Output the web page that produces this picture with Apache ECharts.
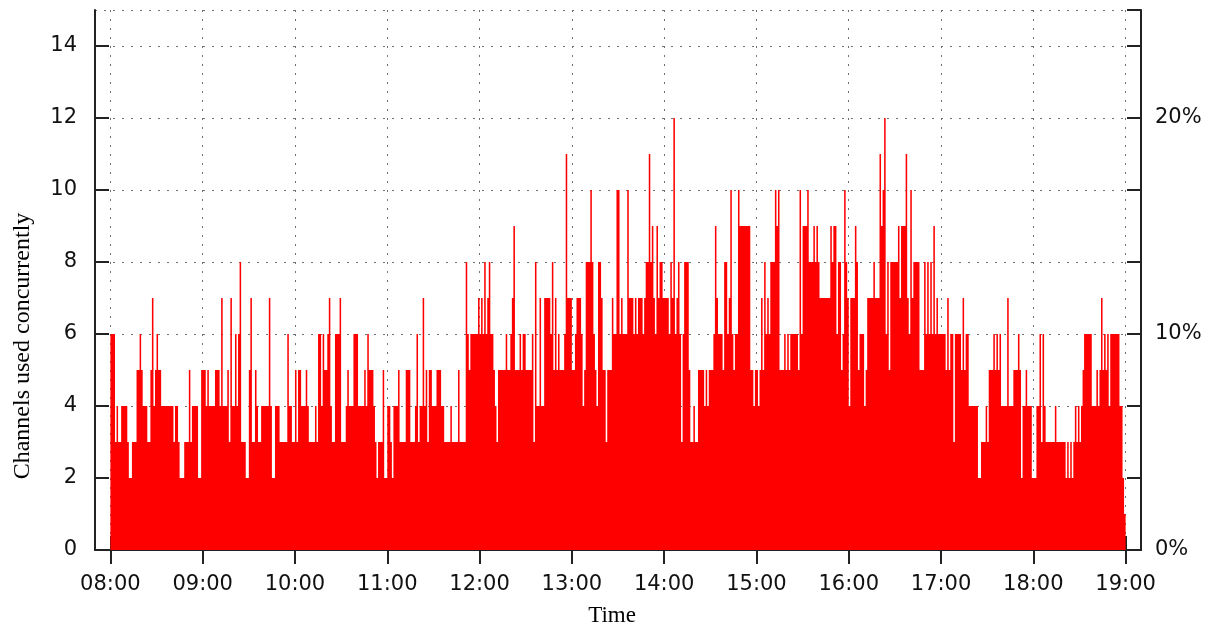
<!DOCTYPE html>
<html>
<head>
<meta charset="utf-8">
<script src="https://cdn.jsdelivr.net/npm/echarts@6/dist/echarts.min.js"></script>
<style>
html,body{margin:0;padding:0;background:#fff;}
#chart{width:1213px;height:627px;}
</style>
</head>
<body>
<div id="chart"></div>
<script>
// Channels used concurrently, one value per minute starting at 08:00
const h08 = [6,6,6,3,4,3,3,4,4,4, 4,3,2,2,3,3,3,5,5,6, 5,4,4,4,3,3,5,7,4,5, 6,5,5,4,4,4,4,4,4,4, 4,3,4,4,3,2,2,2,3,3, 3,5,3,4,4,4,4,2,2,5];
const h09 = [5,5,4,5,4,4,4,4,5,5, 5,4,7,4,4,4,5,3,7,4, 4,6,4,6,8,3,3,3,2,2, 5,7,3,3,5,4,3,3,4,4, 4,4,4,7,4,2,2,4,4,4, 3,3,3,3,3,6,4,4,3,3];
const h10 = [5,3,5,5,4,4,4,5,4,3, 3,3,3,4,3,6,6,4,6,5, 5,6,7,4,3,3,6,6,6,7, 3,3,3,4,5,4,4,4,6,6, 6,4,4,4,4,5,4,6,5,5, 5,4,3,2,3,3,3,5,2,2];
const h11 = [4,4,3,2,4,4,4,5,3,3, 3,3,5,5,5,3,3,3,4,6, 3,4,4,7,4,5,3,5,5,4, 4,4,5,5,5,4,4,3,3,3, 3,4,3,3,3,3,5,3,3,3, 3,8,6,5,6,6,6,6,6,7];
const h12 = [6,7,6,8,6,7,8,6,6,5, 4,3,5,5,5,5,5,6,5,5, 6,7,9,5,5,5,6,5,6,6, 5,5,5,5,6,3,8,4,4,7, 4,4,7,7,7,7,6,8,5,7, 5,6,5,5,5,6,11,7,7,7];
const h13 = [5,5,6,7,7,7,6,4,5,8, 8,8,10,8,6,5,4,8,8,7, 5,5,3,5,5,5,7,6,6,10, 10,6,7,6,6,6,10,7,7,7, 6,7,6,7,7,7,6,7,8,8, 11,8,9,7,6,9,7,8,8,7];
const h14 = [7,7,7,6,8,7,12,6,7,8, 6,3,6,8,8,8,5,3,3,4, 3,3,5,5,5,5,4,5,4,5, 5,5,6,9,7,6,6,6,5,8, 8,6,7,10,6,5,6,6,10,9, 9,9,9,9,9,9,5,5,4,5];
const h15 = [5,4,5,7,5,8,6,7,6,8, 8,8,10,9,10,5,5,5,6,5, 6,5,6,6,6,6,6,5,10,6, 9,9,9,10,8,8,8,9,8,9, 8,7,7,7,7,7,7,7,9,8, 9,9,6,8,8,5,6,10,8,7];
const h16 = [4,7,7,7,9,8,5,6,6,6, 4,5,7,7,7,7,8,7,7,7, 11,9,10,12,6,8,5,8,8,8, 8,8,9,7,9,9,9,11,7,6, 10,7,8,8,8,8,5,5,5,8, 6,8,6,8,6,9,6,7,6,6];
const h17 = [6,6,6,5,7,5,6,6,3,6, 6,6,6,5,7,5,6,6,4,4, 4,4,4,4,2,2,3,3,3,4, 3,5,5,5,6,5,6,5,6,4, 4,4,4,7,4,4,4,5,5,5, 6,5,2,4,4,5,4,4,4,2];
const h18 = [2,2,4,4,6,3,6,4,3,3, 3,3,3,3,4,3,3,3,3,3, 3,2,3,2,3,2,3,4,3,4, 3,4,5,6,6,6,6,6,4,4, 4,5,4,5,7,5,6,5,6,4, 6,6,6,6,6,6,4,4,2,1];

const leftTicks = [0,2,4,6,8,10,12,14];
const rightPct = [0,10,20];
const yTitle = 'Channels used concurrently';
const xTitle = 'Time';

const startMin = -10, endMin = 670;   // axis range in minutes from 08:00
const values = [].concat(h08,h09,h10,h11,h12,h13,h14,h15,h16,h17,h18);

const cats = [];
for (let m = startMin; m <= endMin; m++) {
  const t = 480 + m;
  const hh = Math.floor(t / 60), mm = t % 60;
  cats.push(String(hh).padStart(2,'0') + ':' + String(mm).padStart(2,'0'));
}
// each minute's value, placed on its category (the step spans that minute)
const data = values.map((v, m) => [m - startMin, v]);
const isHour = (i, v) => typeof v === 'string' && v.endsWith(':00');

const labelFont = {fontFamily:'DejaVu Sans', fontSize:21, color:'#111'};
const frame = {show:true, lineStyle:{color:'#222', width:2}};
const gridLine = {show:true, lineStyle:{color:'#707070', width:1, type:[2,7]}};

// one filled step outline through all points, positioned with the axes' scales
function renderSteps(params, api) {
  if (params.dataIndex !== 0) return null;
  const pts = [api.coord([data[0][0], 0])];
  for (let k = 0; k < data.length; k++) {
    const i = data[k][0], v = data[k][1];
    pts.push(api.coord([i, v]));
    pts.push(api.coord([i + 1, v]));
  }
  pts.push(api.coord([data[data.length - 1][0] + 1, 0]));
  return {type:'polygon', shape:{points:pts}, style:{fill:'#ff0000'}};
}

const chart = echarts.init(document.getElementById('chart'), null, {renderer:'canvas'});
chart.setOption({
  animation:false,
  backgroundColor:'#fff',
  grid:{left:95, right:72, top:10, bottom:77, containLabel:false},
  graphic:[
    {type:'text', x:23, y:346, rotation:Math.PI/2,
     style:{text:yTitle, font:'24px "Liberation Serif"', fill:'#000', textAlign:'center', textVerticalAlign:'middle'}},
    {type:'text', x:612, y:616,
     style:{text:xTitle, font:'23px "Liberation Serif"', fill:'#000', textAlign:'center', textVerticalAlign:'middle'}}
  ],
  xAxis:[
    {type:'category', data:cats, boundaryGap:false, position:'bottom',
     axisLine:frame,
     axisTick:{show:true, inside:true, length:14, interval:isHour, lineStyle:{color:'#222', width:2}},
     axisLabel:Object.assign({interval:isHour, margin:24}, labelFont),
     splitLine:Object.assign({interval:isHour}, gridLine)},
    {type:'category', data:cats, boundaryGap:false, position:'top',
     axisLine:frame,
     axisTick:{show:true, inside:true, length:14, interval:isHour, lineStyle:{color:'#222', width:2}},
     axisLabel:{show:false}, splitLine:{show:false}}
  ],
  yAxis:[
    {type:'value', min:0, max:15, interval:2, position:'left',
     axisLine:frame,
     axisTick:{show:true, inside:true, length:14, lineStyle:{color:'#222', width:2}},
     axisLabel:Object.assign({margin:18, showMaxLabel:false,
       formatter:v => leftTicks.indexOf(v) >= 0 ? String(v) : ''}, labelFont),
     splitLine:gridLine},
    {type:'value', min:0, max:15, interval:2, position:'right',
     axisLine:frame,
     axisTick:{show:true, inside:true, length:14, lineStyle:{color:'#222', width:2}},
     axisLabel:{show:false}, splitLine:{show:false}},
    {type:'value', min:0, max:25, interval:10, position:'right',
     axisLine:{show:false}, axisTick:{show:false}, splitLine:{show:false},
     axisLabel:Object.assign({margin:14, showMaxLabel:false,
       formatter:v => rightPct.indexOf(v) >= 0 ? v + '%' : ''}, labelFont)}
  ],
  series:[{
    type:'custom', data:data, xAxisIndex:0, yAxisIndex:0,
    encode:{x:0, y:1}, renderItem:renderSteps, z:1
  }]
});
</script>
</body>
</html>
